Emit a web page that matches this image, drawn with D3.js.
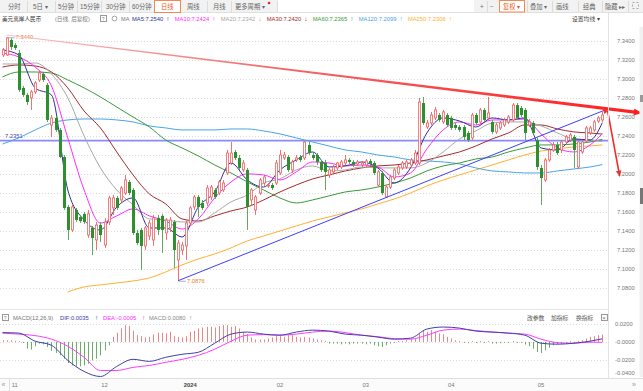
<!DOCTYPE html>
<html><head><meta charset="utf-8">
<script src="https://cdn.jsdelivr.net/npm/d3@7"></script>
<style>
html,body{margin:0;padding:0;background:#fff;overflow:hidden;}
svg{display:block;}
text{font-family:"Liberation Sans","Noto Sans CJK SC",sans-serif;}
</style></head><body>
<svg id="c" width="643" height="391"></svg>
<script>
// ---------------- DATA ----------------
const openP = [7.3253,7.3253,7.3411,7.3358,7.3274,7.2906,7.2832,7.2801,7.2864,7.2990,
7.3053,7.2937,7.2516,7.2590,7.2464,7.2179,7.1653,7.1411,7.1622,7.1548,
7.1580,7.1358,7.1432,7.1306,7.1464,7.1253,7.1495,7.1643,7.1748,7.1727,
7.1800,7.1916,7.1832,7.1379,7.1411,7.1243,7.1348,7.1306,7.1538,7.1559,
7.1379,7.1432,7.1495,7.1095,7.1200,7.1243,7.1484,7.1653,7.1758,7.1695,
7.1695,7.1758,7.1832,7.1800,7.1832,7.2011,7.2116,7.2232,7.2169,7.2043,
7.2043,7.1727,7.1622,7.1800,7.1905,7.1874,7.1884,7.1905,7.2011,7.2169,
7.2179,7.2043,7.2148,7.2179,7.2169,7.2306,7.2200,7.2200,7.2127,7.2116,
7.1990,7.2022,7.2064,7.2074,7.2116,7.2148,7.2127,7.2106,7.2095,7.2095,
7.2137,7.2116,7.1884,7.2011,7.1758,7.1863,7.1958,7.2011,7.2064,7.2074,
7.2095,7.2116,7.2116,7.2747,7.2495,7.2537,7.2590,7.2621,7.2548,7.2621,
7.2590,7.2516,7.2495,7.2495,7.2432,7.2380,7.2621,7.2548,7.2674,7.2590,
7.2548,7.2443,7.2485,7.2516,7.2548,7.2569,7.2726,7.2695,7.2674,7.2516,
7.2537,7.2358,7.2064,7.1937,7.2148,7.2253,7.2306,7.2253,7.2337,7.2358,
7.2390,7.2074,7.2232,7.2348,7.2432,7.2464,7.2558,7.2569];
const highP = [7.3327,7.3440,7.3432,7.3379,7.3306,7.2927,7.2853,7.2885,7.2979,7.3095,
7.3074,7.2958,7.2621,7.2611,7.2485,7.2200,7.1674,7.1674,7.1643,7.1569,
7.1601,7.1622,7.1453,7.1495,7.1495,7.1538,7.1769,7.1779,7.1769,7.1874,
7.1990,7.1937,7.1853,7.1411,7.1432,7.1453,7.1516,7.1569,7.1569,7.1580,
7.1538,7.1548,7.1516,7.1306,7.1285,7.1516,7.1664,7.1779,7.1779,7.1727,
7.1884,7.1884,7.1853,7.1937,7.1937,7.2253,7.2337,7.2253,7.2200,7.2148,
7.2064,7.1853,7.1779,7.1958,7.1990,7.1905,7.1905,7.2148,7.2253,7.2232,
7.2200,7.2148,7.2200,7.2200,7.2348,7.2337,7.2221,7.2221,7.2148,7.2148,
7.2064,7.2095,7.2127,7.2148,7.2200,7.2169,7.2148,7.2148,7.2137,7.2158,
7.2158,7.2137,7.2043,7.2032,7.1884,7.1990,7.2064,7.2095,7.2137,7.2148,
7.2169,7.2253,7.2801,7.2811,7.2569,7.2653,7.2705,7.2642,7.2674,7.2642,
7.2611,7.2537,7.2516,7.2516,7.2453,7.2642,7.2642,7.2695,7.2695,7.2811,
7.2569,7.2537,7.2558,7.2590,7.2621,7.2747,7.2747,7.2716,7.2695,7.2579,
7.2558,7.2380,7.2095,7.2169,7.2274,7.2337,7.2337,7.2348,7.2411,7.2432,
7.2411,7.2348,7.2348,7.2506,7.2506,7.2569,7.2611,7.2653];
const lowP = [7.3232,7.3243,7.3306,7.3306,7.2864,7.2811,7.2726,7.2674,7.2843,7.2969,
7.2969,7.2548,7.2390,7.2443,7.2169,7.1622,7.1306,7.1390,7.1495,7.1484,
7.1474,7.1327,7.1147,7.1200,7.1285,7.1222,7.1463,7.1569,7.1622,7.1706,
7.1779,7.1779,7.1358,7.1253,7.0990,7.1200,7.1306,7.1243,7.1358,7.1168,
7.1306,7.1390,7.1011,7.0876,7.1147,7.1095,7.1453,7.1622,7.1548,7.1622,
7.1664,7.1727,7.1737,7.1779,7.1811,7.1990,7.2095,7.2148,7.2043,7.2022,
7.1411,7.1674,7.1569,7.1779,7.1874,7.1853,7.1832,7.1884,7.1990,7.2148,
7.2022,7.2011,7.2127,7.2127,7.2148,7.2200,7.2148,7.2095,7.2022,7.1832,
7.1958,7.2001,7.2043,7.2053,7.2095,7.2106,7.2074,7.2085,7.2074,7.2074,
7.2085,7.1990,7.1863,7.1779,7.1748,7.1842,7.1937,7.1990,7.2043,7.2053,
7.2074,7.2095,7.2095,7.2516,7.2474,7.2516,7.2569,7.2548,7.2527,7.2495,
7.2464,7.2464,7.2443,7.2358,7.2337,7.2358,7.2516,7.2527,7.2548,7.2569,
7.2422,7.2422,7.2464,7.2495,7.2527,7.2548,7.2569,7.2600,7.2358,7.2495,
7.2411,7.2043,7.1674,7.1916,7.2127,7.2232,7.2200,7.2221,7.2306,7.2337,
7.2064,7.2053,7.2211,7.2327,7.2411,7.2443,7.2537,7.2548];
const closeP = [7.3306,7.3432,7.3337,7.3327,7.2885,7.2832,7.2758,7.2864,7.2958,7.3063,
7.2990,7.2569,7.2590,7.2464,7.2179,7.1643,7.1411,7.1653,7.1516,7.1505,
7.1495,7.1580,7.1327,7.1463,7.1358,7.1495,7.1748,7.1748,7.1643,7.1853,
7.1937,7.1800,7.1379,7.1274,7.1243,7.1432,7.1484,7.1538,7.1411,7.1411,
7.1516,7.1516,7.1200,7.1274,7.1253,7.1484,7.1643,7.1758,7.1653,7.1643,
7.1853,7.1863,7.1758,7.1916,7.1905,7.2221,7.2221,7.2169,7.2064,7.2116,
7.1653,7.1832,7.1758,7.1937,7.1969,7.1884,7.1853,7.2116,7.2200,7.2200,
7.2043,7.2127,7.2169,7.2148,7.2337,7.2221,7.2169,7.2127,7.2043,7.2022,
7.2043,7.2074,7.2116,7.2127,7.2148,7.2127,7.2095,7.2127,7.2116,7.2137,
7.2106,7.2011,7.2022,7.1800,7.1863,7.1969,7.2043,7.2074,7.2116,7.2127,
7.2148,7.2221,7.2758,7.2537,7.2537,7.2621,7.2674,7.2569,7.2653,7.2516,
7.2485,7.2485,7.2464,7.2390,7.2358,7.2621,7.2537,7.2674,7.2569,7.2642,
7.2443,7.2516,7.2537,7.2569,7.2600,7.2726,7.2590,7.2621,7.2432,7.2548,
7.2432,7.2074,7.1958,7.2148,7.2253,7.2306,7.2221,7.2337,7.2390,7.2411,
7.2253,7.2337,7.2337,7.2485,7.2485,7.2548,7.2590,7.2621];

// moving-average lines at every 4th candle
const maIdx = [0,4,8,12,16,20,24,28,32,36,40,44,48,52,56,60,64,68,72,76,80,84,88,92,96,100,104,108,112,116,120,124,128,132,136,140,144,147];
const ma5 = [7.3306,7.3253,7.2906,7.2832,7.1832,7.1516,7.1411,7.1653,7.1748,7.1432,7.1432,7.1337,7.1653,7.1811,7.2116,7.1937,7.1863,7.2043,7.2148,7.2232,7.2074,7.2085,7.2127,7.2064,7.1905,7.2064,7.2432,7.2590,7.2558,7.2495,7.2590,7.2569,7.2590,7.2274,7.2253,7.2369,7.2358,7.2540];
const ma10 = [7.3274,7.3232,7.3126,7.2927,7.2380,7.1832,7.1484,7.1559,7.1632,7.1559,7.1505,7.1421,7.1527,7.1748,7.1916,7.2001,7.1990,7.1937,7.2022,7.2127,7.2116,7.2085,7.2095,7.2074,7.1969,7.2011,7.2264,7.2464,7.2548,7.2516,7.2569,7.2569,7.2579,7.2422,7.2274,7.2232,7.2306,7.2424];
const ma20 = [7.3158,7.3158,7.3169,7.3053,7.2801,7.2401,7.2064,7.1832,7.1674,7.1527,7.1516,7.1495,7.1495,7.1590,7.1706,7.1779,7.1905,7.1948,7.2043,7.2085,7.2032,7.2043,7.2074,7.2064,7.2064,7.2064,7.2116,7.2232,7.2369,7.2453,7.2537,7.2548,7.2548,7.2506,7.2432,7.2369,7.2358,7.2342];
const ma30 = [7.3126,7.3148,7.3137,7.3074,7.2906,7.2663,7.2485,7.2232,7.1990,7.1790,7.1685,7.1527,7.1505,7.1559,7.1611,7.1653,7.1727,7.1811,7.1884,7.1948,7.1990,7.2032,7.2064,7.2085,7.2095,7.2116,7.2148,7.2190,7.2232,7.2295,7.2369,7.2432,7.2516,7.2516,7.2474,7.2443,7.2432,7.2420];
const ma60 = [7.3021,7.3074,7.3074,7.3063,7.2990,7.2906,7.2811,7.2705,7.2600,7.2495,7.2358,7.2274,7.2190,7.2095,7.2011,7.1916,7.1832,7.1748,7.1695,7.1727,7.1769,7.1811,7.1832,7.1863,7.1905,7.1958,7.2032,7.2085,7.2116,7.2158,7.2179,7.2232,7.2274,7.2306,7.2306,7.2316,7.2337,7.2365];
const ma120 = [7.2316,7.2380,7.2464,7.2537,7.2569,7.2579,7.2579,7.2569,7.2548,7.2506,7.2485,7.2464,7.2464,7.2464,7.2474,7.2474,7.2453,7.2422,7.2380,7.2337,7.2295,7.2253,7.2232,7.2200,7.2179,7.2148,7.2137,7.2127,7.2106,7.2064,7.2032,7.2022,7.2011,7.2011,7.2032,7.2053,7.2074,7.2099];
const ma250Idx = [16,20,24,28,32,36,40,44,48,52,56,60,64,68,72,76,80,84,88,92,96,100,104,108,112,116,120,124,128,132,136,140,144,147];
const ma250 = [7.0758,7.0811,7.0832,7.0853,7.0874,7.0906,7.0969,7.1042,7.1106,7.1158,7.1222,7.1296,7.1348,7.1400,7.1453,7.1505,7.1548,7.1590,7.1632,7.1685,7.1737,7.1800,7.1874,7.1937,7.1990,7.2043,7.2095,7.2148,7.2200,7.2242,7.2264,7.2285,7.2295,7.2306];

// MACD(12,26,9)
const difVals = [0.0105,0.0099,0.0008,-0.0038,-0.0209,-0.0334,-0.0391,-0.0277,-0.0197,-0.0220,-0.0174,-0.0140,-0.0117,-0.0015,0.0088,0.0111,0.0088,0.0076,0.0111,0.0133,0.0122,0.0088,0.0076,0.0054,0.0031,0.0042,0.0145,0.0168,0.0156,0.0122,0.0111,0.0099,0.0076,-0.0015,-0.0026,-0.0015,0.0008,0.0035];
const deaVals = [0.0099,0.0088,0.0071,0.0031,-0.0049,-0.0174,-0.0323,-0.0323,-0.0288,-0.0266,-0.0231,-0.0197,-0.0152,-0.0083,0.0008,0.0076,0.0082,0.0076,0.0088,0.0111,0.0122,0.0105,0.0076,0.0059,0.0036,0.0031,0.0076,0.0133,0.0145,0.0128,0.0111,0.0099,0.0088,0.0031,-0.0009,-0.0015,-0.0003,-0.0005];
const macdBars = [0.0019,0.0019,0.0019,0.0011,0.0008,-0.0011,-0.0076,-0.0087,-0.0049,-0.0019,
-0.0027,-0.0057,-0.0103,-0.0125,-0.0152,-0.0190,-0.0239,-0.0266,-0.0277,-0.0277,
-0.0266,-0.0247,-0.0209,-0.0190,-0.0152,-0.0095,-0.0038,0.0057,0.0103,0.0152,
0.0190,0.0179,0.0125,0.0076,0.0065,0.0049,0.0057,0.0087,0.0103,0.0103,
0.0095,0.0114,0.0065,0.0057,0.0049,0.0065,0.0114,0.0125,0.0152,0.0163,
0.0171,0.0171,0.0163,0.0179,0.0190,0.0190,0.0171,0.0179,0.0152,0.0114,
0.0087,0.0049,0.0027,0.0027,0.0027,0.0038,0.0049,0.0065,0.0065,0.0057,
0.0076,0.0076,0.0057,0.0049,0.0057,0.0049,0.0038,0.0027,0.0019,0.0000,
-0.0019,-0.0019,-0.0019,-0.0027,-0.0019,-0.0027,-0.0019,-0.0019,-0.0019,-0.0027,
-0.0019,-0.0038,-0.0049,-0.0057,-0.0038,-0.0019,-0.0008,0.0008,0.0011,0.0019,
0.0027,0.0038,0.0095,0.0125,0.0114,0.0133,0.0114,0.0095,0.0087,0.0057,
0.0038,0.0019,0.0011,-0.0008,-0.0015,0.0000,-0.0008,0.0000,-0.0008,0.0000,
-0.0019,-0.0019,-0.0015,-0.0011,-0.0008,0.0000,-0.0008,-0.0011,-0.0030,-0.0049,
-0.0076,-0.0114,-0.0125,-0.0095,-0.0065,-0.0038,-0.0027,-0.0019,-0.0008,0.0000,
-0.0011,0.0000,0.0019,0.0038,0.0057,0.0065,0.0076,0.0084];

// axes
const priceTicks = [7.08,7.10,7.12,7.14,7.16,7.18,7.20,7.22,7.24,7.26,7.28,7.30,7.32,7.34];
const macdTicks = [0.02,0,-0.02,-0.04];
const macdTickLabels = ["0.0200","-0.0000","-0.0200","-0.0400"];
const monthIdx = [3,25,46,68,89,110,132];
const monthLabels = ["11","12","2024","02","03","04","05"];

// drawn annotations (candle index, price)
const resistLine = [[1,7.3463],[156.7,7.2642]];
const supportLine = [[43,7.0876],[147.7,7.2674]];
const dropArrow = [[148.3,7.2664],[151.3,7.1968]];
const levelPrice = 7.2351;
const highMark = {i:1, v:7.3440, label:"7.3440"};
const lowMark = {i:43, v:7.0876, label:"7.0876"};

// legend values
const maNames = ["MA5","MA10","MA20","MA30","MA60","MA120","MA250"];
const maLast = ["7.2540","7.2424","7.2342","7.2420","7.2365","7.2099","7.2306"];
const maDir = ["↑","↑","↓","↓","↑","↑","↑"];

// ---------------- DRAW ----------------
const svg = d3.select("#c");
const n = closeP.length;
const x = d3.scaleLinear().domain([0,147]).range([2.5,602.3]);
const y = d3.scaleLinear().domain([7.08,7.34]).range([288,41]);
const ym = d3.scaleLinear().domain([-0.04,0.02]).range([377.3,324.2]);

const maColors = ["#2f2f9a","#ff2cff","#a8a8a8","#a52a2a","#3a9a3a","#4aa3e8","#ffb030"];

function txt(g,t,xx,yy,o={}){
  return g.append("text").attr("x",xx).attr("y",yy).text(t)
    .attr("font-size",o.size||6).attr("fill",o.fill||"#555")
    .attr("text-anchor",o.anchor||"start")
    .attr("font-weight",o.weight||"normal");
}

svg.append("rect").attr("width",643).attr("height",391).attr("fill","#fff");

// ---- top toolbar ----
const tb = svg.append("g");
tb.append("rect").attr("x",0).attr("y",0).attr("width",278).attr("height",12).attr("fill","#f2f2f2");
tb.append("rect").attr("x",474).attr("y",0).attr("width",169).attr("height",12).attr("fill","#f2f2f2");
tb.append("line").attr("x1",0).attr("x2",643).attr("y1",12.5).attr("y2",12.5).attr("stroke","#e0e0e0");
[27,55,77,101,129,207,231,277,487,527,552,578,602,628].forEach(sx=>{
  tb.append("line").attr("x1",sx+.5).attr("x2",sx+.5).attr("y1",1).attr("y2",12).attr("stroke","#dcdcdc");
});
tb.append("rect").attr("x",154.5).attr("y",0.5).attr("width",26).attr("height",12).attr("fill","#fff").attr("stroke","#f08a50");
tb.append("rect").attr("x",499.5).attr("y",0.5).attr("width",25).attr("height",11.5).attr("fill","#fff").attr("stroke","#f08a50");
const tabs = [["分时",8],["5日 ▾",33],["5分钟",58],["15分钟",80],["30分钟",106],["60分钟",132],["周线",187],["月线",213],["更多周期 ▾",235],
  ["+",480],["−",490],["叠加 ▾",530],["画线",556],["经典",583],["隐藏 ▸▸",605]];
tabs.forEach(t=>txt(tb,t[0],t[1],8.5,{size:6.3,fill:"#666"}));
txt(tb,"日线",161,8.5,{size:6.3,fill:"#e8581e"});
txt(tb,"复权 ▾",503,8.5,{size:6.3,fill:"#e8581e"});
tb.append("circle").attr("cx",269).attr("cy",3).attr("r",1.3).attr("fill","#f02020");
tb.append("rect").attr("x",632.5).attr("y",2.5).attr("width",6).attr("height",6).attr("fill","none").attr("stroke","#aaa").attr("stroke-dasharray","2,2");

// ---- legend row ----
const lg = svg.append("g");
txt(lg,"美元离岸人民币",2,20.5,{size:5.6,fill:"#333"});
txt(lg,"(日线, 后复权)",55,20.5,{size:5.6,fill:"#777"});
lg.append("rect").attr("x",100.5).attr("y",15.5).attr("width",6).attr("height",6).attr("fill","none").attr("stroke","#999");
txt(lg,"?",101.8,20.5,{size:5,fill:"#888"});
lg.append("circle").attr("cx",114.5).attr("cy",18.5).attr("r",2.4).attr("fill","none").attr("stroke","#999").attr("stroke-width",0.9);
txt(lg,"MA",121,20.5,{size:5.6,fill:"#777"});
let lx = 132;
maNames.forEach((nm,k)=>{
  const t = txt(lg,nm+":"+maLast[k],lx,20.5,{size:5.8,fill:maColors[k]});
  const w = t.node().getComputedTextLength();
  txt(lg,maDir[k],lx+w+3,20.8,{size:6.5,fill:maColors[k]});
  lx += w + 11.5;
});
txt(lg,"设置均线 ▾",572,20.5,{size:5.8,fill:"#444"});

// ---- main plot ----
svg.append("clipPath").attr("id","clipMain").append("rect").attr("x",0).attr("y",27).attr("width",608).attr("height",282);
const mp = svg.append("g").attr("clip-path","url(#clipMain)");

mp.selectAll(".grid").data(priceTicks).join("line")
  .attr("x1",0).attr("x2",608).attr("y1",d=>Math.round(y(d))+.5).attr("y2",d=>Math.round(y(d))+.5)
  .attr("stroke","#d9d9d9").attr("stroke-dasharray","1,2");

// horizontal level line
mp.append("line").attr("x1",0).attr("x2",608).attr("y1",y(levelPrice)).attr("y2",y(levelPrice))
  .attr("stroke","#8a8aff").attr("stroke-width",1.6);
txt(mp,levelPrice.toFixed(4),5,y(levelPrice)-3,{size:5.8,fill:"#4646b4"});

// MA lines
const lineGen = d3.line().x(d=>x(d[0])).y(d=>y(d[1])).curve(d3.curveMonotoneX);
const maSeries = [ma5,ma10,ma20,ma30,ma60,ma120];
// draw slow first
[[ma250Idx,ma250,6],[maIdx,ma120,5],[maIdx,ma60,4],[maIdx,ma30,3],[maIdx,ma20,2],[maIdx,ma10,1],[maIdx,ma5,0]].forEach(([ix,vals,k])=>{
  mp.append("path").datum(ix.map((d,j)=>[d,vals[j]])).attr("d",lineGen)
    .attr("fill","none").attr("stroke",maColors[k]).attr("stroke-width",1);
});

// candles
const cw = 3;
const cg = mp.append("g");
d3.range(n).forEach(i=>{
  const o=openP[i], c=closeP[i], h=highP[i], l=lowP[i];
  const cx = Math.round(x(i))+.5;
  if (c >= o) {
    const col="#f06262";
    const top=y(c), bot=y(o);
    cg.append("line").attr("x1",cx).attr("x2",cx).attr("y1",y(h)).attr("y2",top).attr("stroke",col).attr("stroke-width",0.9);
    cg.append("line").attr("x1",cx).attr("x2",cx).attr("y1",bot).attr("y2",y(l)).attr("stroke",col).attr("stroke-width",0.9);
    cg.append("rect").attr("x",cx-cw/2+0.4).attr("y",top).attr("width",cw-0.8).attr("height",Math.max(0.8,bot-top))
      .attr("fill","#fff").attr("stroke",col).attr("stroke-width",0.8);
  } else {
    const col="#2e8f2e";
    cg.append("line").attr("x1",cx).attr("x2",cx).attr("y1",y(h)).attr("y2",y(l)).attr("stroke","#4f9f4f").attr("stroke-width",0.9);
    cg.append("rect").attr("x",cx-cw/2).attr("y",y(o)).attr("width",cw).attr("height",Math.max(0.8,y(c)-y(o)))
      .attr("fill",col);
  }
});

// support trend line (blue)
mp.append("line").attr("x1",x(supportLine[0][0])).attr("y1",y(supportLine[0][1]))
  .attr("x2",x(supportLine[1][0])).attr("y2",y(supportLine[1][1])).attr("stroke","#3e3ef8").attr("stroke-width",1);

// resistance trend line (tapered red)
const defs = svg.append("defs");
const gr = defs.append("linearGradient").attr("id","gRed").attr("gradientUnits","userSpaceOnUse")
  .attr("x1",x(resistLine[0][0])).attr("x2",x(resistLine[1][0])).attr("y1",0).attr("y2",0);
gr.append("stop").attr("offset","0").attr("stop-color","#f8c4c4");
gr.append("stop").attr("offset","0.45").attr("stop-color","#f46464");
gr.append("stop").attr("offset","1").attr("stop-color","#ff1e1e");
const ax = x(resistLine[0][0]), ay = y(resistLine[0][1]), bx = x(resistLine[1][0]), by = y(resistLine[1][1]);
const ang = Math.atan2(by-ay,bx-ax);
const tipBack = 7;
const ex = bx - tipBack*Math.cos(ang), ey = by - tipBack*Math.sin(ang);
svg.append("path").attr("d",`M${ax},${ay-0.4} L${ex},${ey-1.6} L${ex},${ey+1.6} L${ax},${ay+0.4} Z`).attr("fill","url(#gRed)");
function arrowHead(tx,ty,a,len,wid,col){
  const bx2 = tx - len*Math.cos(a), by2 = ty - len*Math.sin(a);
  const px = -Math.sin(a)*wid/2, py = Math.cos(a)*wid/2;
  svg.append("path").attr("d",`M${tx},${ty} L${bx2+px},${by2+py} L${bx2-px},${by2-py} Z`).attr("fill",col);
}
arrowHead(bx,by,ang,8,7,"#ff1e1e");

// drop arrow
const dx1=x(dropArrow[0][0]), dy1=y(dropArrow[0][1]), dx2=x(dropArrow[1][0]), dy2=y(dropArrow[1][1]);
const a2 = Math.atan2(dy2-dy1,dx2-dx1);
svg.append("line").attr("x1",dx1).attr("y1",dy1).attr("x2",dx2-5*Math.cos(a2)).attr("y2",dy2-5*Math.sin(a2))
  .attr("stroke","#f42a2a").attr("stroke-width",1.6);
arrowHead(dx2,dy2,a2,6.5,5.5,"#f42a2a");
arrowHead(dx1+1,dy1-0.5,-0.3,5,4.5,"#f42a2a");

// high / low marks
[highMark,lowMark].forEach(m=>{
  const mx = x(m.i), my = y(m.v);
  mp.append("line").attr("x1",mx+1).attr("x2",mx+8).attr("y1",my+0.5).attr("y2",my+0.5).attr("stroke","#9a9ad0").attr("stroke-width",0.8);
  txt(mp,m.label,mx+9,my+2.2,{size:5.8,fill:"#ef7a3a"});
});

// ---- right axis ----
const ra = svg.append("g");
ra.append("line").attr("x1",608.5).attr("x2",608.5).attr("y1",13).attr("y2",378).attr("stroke","#e3e3e3");
priceTicks.forEach(v=>{
  txt(ra,v.toFixed(4),617,y(v)+2,{size:5.8,fill:"#777"});
});
ra.append("rect").attr("x",639.5).attr("y",27).attr("width",3.5).attr("height",350).attr("fill","#f1f1f1");
ra.append("rect").attr("x",640).attr("y",95).attr("width",3).attr("height",7).attr("fill","#9a9a9a");
ra.append("rect").attr("x",640).attr("y",188).attr("width",3).attr("height",16).attr("fill","#777");

// ---- MACD pane ----
const mc = svg.append("g");
mc.append("line").attr("x1",0).attr("x2",608).attr("y1",309.5).attr("y2",309.5).attr("stroke","#e6e6e6");
mc.append("rect").attr("x",2.5).attr("y",314.5).attr("width",6).attr("height",6).attr("fill","none").attr("stroke","#999");
txt(mc,"?",3.8,319.5,{size:5,fill:"#888"});
txt(mc,"MACD(12,26,9)",13,319.8,{size:5.8,fill:"#777"});
txt(mc,"DIF:0.0035",60,319.8,{size:5.8,fill:"#3a3aa8"});
txt(mc,"↑",95,320,{size:6.5,fill:"#3a3aa8"});
txt(mc,"DEA:-0.0005",103,319.8,{size:5.8,fill:"#ff2cff"});
txt(mc,"↑",142,320,{size:6.5,fill:"#ff2cff"});
txt(mc,"MACD:0.0080",149,319.8,{size:5.8,fill:"#888"});
txt(mc,"↑",189,320,{size:6.5,fill:"#888"});
txt(mc,"改参数",527,319.8,{size:5.8,fill:"#555"});
txt(mc,"加指标",551,319.8,{size:5.8,fill:"#555"});
txt(mc,"换指标",576,319.8,{size:5.8,fill:"#555"});
mc.append("rect").attr("x",601.5).attr("y",314.5).attr("width",6).attr("height",6).attr("fill","none").attr("stroke","#999");
txt(mc,"×",602.3,319.8,{size:6,fill:"#777"});

macdTicks.slice(0,3).forEach(v=>{
  mc.append("line").attr("x1",0).attr("x2",608).attr("y1",Math.round(ym(v))+.5).attr("y2",Math.round(ym(v))+.5)
    .attr("stroke","#dadada").attr("stroke-dasharray","1,2");
});
macdTicks.forEach((v,k)=>{
  txt(mc,macdTickLabels[k],615,Math.min(ym(v),372.5)+2,{size:5.8,fill:"#777"});
});
mc.selectAll(".bar").data(macdBars).join("line")
  .attr("x1",(d,i)=>Math.round(x(i))+.5).attr("x2",(d,i)=>Math.round(x(i))+.5)
  .attr("y1",ym(0)).attr("y2",d=>Math.abs(ym(d)-ym(0))<1 ? ym(0)+(d<0?1:-1) : ym(d))
  .attr("stroke",d=>d>=0?"#f08484":"#6aae6a").attr("stroke-width",1);
const mLine = d3.line().x(d=>x(d[0])).y(d=>ym(d[1])).curve(d3.curveMonotoneX);
mc.append("path").datum(maIdx.map((d,j)=>[d,deaVals[j]])).attr("d",mLine).attr("fill","none").attr("stroke","#ff3cff").attr("stroke-width",1);
mc.append("path").datum(maIdx.map((d,j)=>[d,difVals[j]])).attr("d",mLine).attr("fill","none").attr("stroke","#4040a8").attr("stroke-width",1);

// ---- bottom axis ----
const ba = svg.append("g");
ba.append("line").attr("x1",0).attr("x2",643).attr("y1",378.5).attr("y2",378.5).attr("stroke","#dedede");
ba.append("rect").attr("x",0).attr("y",379).attr("width",643).attr("height",12).attr("fill","#fbfbfb");
txt(ba,"«",1.5,387,{size:7,fill:"#999"});
ba.append("line").attr("x1",9.5).attr("x2",9.5).attr("y1",379).attr("y2",391).attr("stroke","#e0e0e0");
monthIdx.forEach((ix,k)=>{
  txt(ba,monthLabels[k],x(ix),387,{size:5.8,fill:k===2?"#444":"#777",anchor:"middle",weight:k===2?"bold":"normal"});
});
txt(ba,"»",632,387,{size:7,fill:"#999"});
</script>
</body></html>
